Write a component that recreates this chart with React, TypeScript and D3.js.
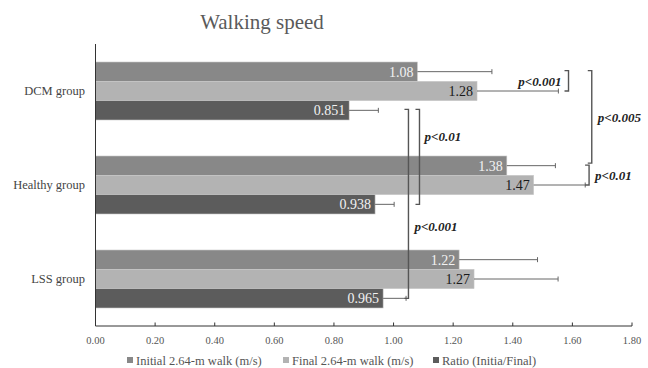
import React from "react";
import * as d3 from "d3";

const categories = ["DCM group", "Healthy group", "LSS group"];
const seriesNames = ["Initial 2.64-m walk (m/s)", "Final 2.64-m walk (m/s)", "Ratio (Initia/Final)"];
const initialSpeed = [1.08, 1.38, 1.22];
const finalSpeed = [1.28, 1.47, 1.27];
const ratioValues = [0.851, 0.938, 0.965];
const initialSD = [0.25, 0.163, 0.263];
const finalSD = [0.273, 0.173, 0.282];
const ratioSD = [0.098, 0.064, 0.077];
const valueLabels = [["1.08", "1.38", "1.22"], ["1.28", "1.47", "1.27"], ["0.851", "0.938", "0.965"]];
const xTicks = [0, 0.2, 0.4, 0.6, 0.8, 1.0, 1.2, 1.4, 1.6, 1.8];
// comparisons: [groupA, seriesA, groupB, seriesB, bracket x value, label]
const comparisons: [number, number, number, number, number, string][] = [
  [0, 0, 0, 1, 1.587, "p<0.001"],
  [0, 0, 1, 0, 1.665, "p<0.005"],
  [1, 0, 1, 1, 1.656, "p<0.01"],
  [0, 2, 1, 2, 1.087, "p<0.01"],
  [0, 2, 2, 2, 1.05, "p<0.001"],
];

const W = 648, H = 368;
const FONT = "'Liberation Serif', 'DejaVu Serif', serif";
const colors = ["#888888", "#b3b3b3", "#5c5c5c"];
const labelColors = ["#f2f2f2", "#1a1a1a", "#f2f2f2"];

export default function App() {
  const x = d3.scaleLinear().domain([0, 1.8]).range([95.5, 632]);
  const y = d3.scaleBand<string>().domain(categories).range([44, 326]).paddingInner(0).paddingOuter(0);
  const inner = d3.scaleBand<number>().domain([0, 1, 2]).range([18, y.bandwidth() - 18]).padding(0);
  const values = [initialSpeed, finalSpeed, ratioValues];
  const sds = [initialSD, finalSD, ratioSD];
  const bh = inner.bandwidth();
  const cy = (g: number, s: number) => (y(categories[g]) as number) + (inner(s) as number) + bh / 2;

  return (
    <svg width={W} height={H} style={{ position: "absolute", left: 0, top: 0, background: "#fff" }} fontFamily={FONT}>
      <text x={262} y={29} textAnchor="middle" fontSize={21} fill="#5a5a5a">Walking speed</text>

      {values.map((vals, s) =>
        vals.map((v, g) => {
          const y0 = (y(categories[g]) as number) + (inner(s) as number);
          return (
            <g key={`${s}-${g}`}>
              <rect x={x(0)} y={y0} width={x(v) - x(0)} height={bh} fill={colors[s]} stroke="#c8c8c8" strokeWidth={0.6} />
              <line x1={x(v)} x2={x(v + sds[s][g])} y1={y0 + bh / 2} y2={y0 + bh / 2} stroke="#666" strokeWidth={1} />
              <line x1={x(v + sds[s][g])} x2={x(v + sds[s][g])} y1={y0 + bh / 2 - 2.5} y2={y0 + bh / 2 + 2.5} stroke="#666" strokeWidth={1} />
              <text x={x(v) - 4} y={y0 + bh / 2} dy="0.36em" textAnchor="end" fontSize={14} fill={labelColors[s]}>{valueLabels[s][g]}</text>
            </g>
          );
        })
      )}

      {/* axes */}
      <line x1={x(0)} x2={x(0)} y1={44} y2={326} stroke="#333" strokeWidth={1} />
      <line x1={x(0)} x2={x(1.8)} y1={326} y2={326} stroke="#333" strokeWidth={1} />
      {xTicks.map((t) => (
        <g key={t}>
          <line x1={x(t)} x2={x(t)} y1={322.5} y2={326} stroke="#333" strokeWidth={1} />
          <text x={x(t)} y={344} textAnchor="middle" fontSize={10.5} fill="#555">{t.toFixed(2)}</text>
        </g>
      ))}
      {categories.map((c) => (
        <text key={c} x={85} y={(y(c) as number) + y.bandwidth() / 2 - 1} dy="0.36em" textAnchor="end" fontSize={12.5} fill="#444">{c}</text>
      ))}

      {/* significance brackets */}
      {comparisons.map(([ga, sa, gb, sb, xv, label], i) => {
        const bx = x(xv);
        const ya = cy(ga, sa) - 1;
        const yb = cy(gb, sb) - (i === 1 ? 2.5 : 0);
        const yTop = i === 2 ? ya + 0.5 : ya;
        let tx = bx + 6, ty = (yTop + yb) / 2, anchor: "start" | "end" = "start";
        if (i === 0) { tx = bx - 7; anchor = "end"; }
        if (i === 3) { tx = bx + 5; ty = 136; }
        if (i === 4) { tx = bx + 6; ty = 226; }
        return (
          <g key={i}>
            <path d={`M${bx - 4},${yTop}H${bx}V${yb}H${bx - 4}`} fill="none" stroke="#555" strokeWidth={1.4} />
            <text x={tx} y={ty} dy="0.36em" textAnchor={anchor} fontSize={13} fontStyle="italic" fontWeight="bold" fill="#222">{label}</text>
          </g>
        );
      })}

      {/* legend */}
      {seriesNames.map((n, i) => {
        const lx = [127, 283, 433][i];
        return (
          <g key={n}>
            <rect x={lx} y={357} width={6} height={6} fill={colors[i]} />
            <text x={lx + 9} y={360} dy="0.36em" fontSize={12.5} fill="#555">{n}</text>
          </g>
        );
      })}
    </svg>
  );
}
